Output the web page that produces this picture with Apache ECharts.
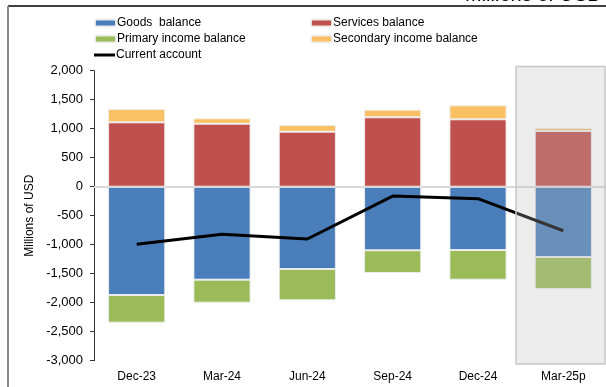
<!DOCTYPE html>
<html><head><meta charset="utf-8">
<script src="https://cdn.jsdelivr.net/npm/echarts@6/dist/echarts.min.js"></script>
<style>html,body{margin:0;padding:0;background:#fff}#c{width:606px;height:387px}</style>
</head><body><div id="c"></div>
<script>
var categories = ['Dec-23','Mar-24','Jun-24','Sep-24','Dec-24','Mar-25p'];
var goods = [-1867,-1603,-1419,-1097,-1092,-1212];
var services = [1110,1086,948,1197,1162,960];
var primary = [-477,-397,-540,-391,-511,-552];
var secondary = [230,93,115,131,241,52];
var currentAccount = [-993,-821,-902,-161,-207,-759];
var yTicks = {min:-3000,max:2000,interval:500};

var chart = echarts.init(document.getElementById('c'), null, {renderer:'canvas'});
var FONT = 'Liberation Sans';
function fmt(v){ return v.toLocaleString('en-US'); }
var barBorder = {borderColor:'rgba(240,240,240,0.9)', borderWidth:1};
function leg(name, left, top, extra){
  var o = {data:[name], left:left, top:top, itemWidth:21, itemHeight:7, itemGap:0,
    padding:0, textStyle:{fontFamily:FONT, fontSize:12, color:'#000', padding:[0,0,0,-4]},
    selectedMode:false};
  for (var k in extra) o[k]=extra[k];
  return o;
}
chart.setOption({
  animation:false,
  textStyle:{fontFamily:FONT},
  grid:{left:94, right:-5, top:70.7, bottom:26.3},
  legend:[
    leg('Goods  balance', 94, 17),
    leg('Services balance', 310, 17),
    leg('Primary income balance', 94, 33),
    leg('Secondary income balance', 310, 33),
    leg('Current account', 94, 49, {icon:'rect', itemHeight:3})
  ],
  xAxis:{type:'category', data:categories, axisLine:{show:false}, axisTick:{show:false},
    axisLabel:{fontFamily:FONT, fontSize:12, color:'#000', margin:10}},
  yAxis:{type:'value', min:yTicks.min, max:yTicks.max, interval:yTicks.interval,
    name:'Millions of USD', nameLocation:'middle', nameGap:48, nameRotate:90,
    nameTextStyle:{fontFamily:FONT, fontSize:12, color:'#000'},
    axisLine:{show:true, lineStyle:{color:'#333', width:1}},
    axisTick:{show:true, length:4, lineStyle:{color:'#333'}},
    axisLabel:{formatter:fmt, fontFamily:FONT, fontSize:13, color:'#000', margin:11},
    splitLine:{show:false}},
  series:[
    {name:'Goods  balance', type:'bar', stack:'a', data:goods, barWidth:'67%',
      itemStyle:Object.assign({color:'#4a7ebb'}, barBorder),
      markLine:{silent:true, symbol:'none', label:{show:false},
        lineStyle:{color:'#d9d9d9', width:2, type:'solid'}, data:[{yAxis:0}]}},
    {name:'Services balance', type:'bar', stack:'a', data:services,
      itemStyle:Object.assign({color:'#c0504d'}, barBorder)},
    {name:'Primary income balance', type:'bar', stack:'a', data:primary,
      itemStyle:Object.assign({color:'#9bbb59'}, barBorder)},
    {name:'Secondary income balance', type:'bar', stack:'a', data:secondary,
      itemStyle:Object.assign({color:'#fac064'}, barBorder)},
    {name:'Current account', type:'line', data:currentAccount, showSymbol:false, symbol:'none',
      lineStyle:{color:'#000', width:3}, itemStyle:{color:'#000'}, z:5}
  ],
  graphic:[
    {type:'line', shape:{x1:8, y1:6, x2:606, y2:6}, style:{stroke:'#000', lineWidth:1.5}, z:100},
    {type:'line', shape:{x1:8, y1:6, x2:8, y2:387}, style:{stroke:'#888', lineWidth:2}, z:100},
    {type:'rect', shape:{x:516, y:66.5, width:89, height:297.5},
      style:{fill:'rgba(188,188,188,0.28)', stroke:'#c8c8c8', lineWidth:1.5}, z:100},
    {type:'text', left:465, top:-15, style:{text:'Millions of USD', fontFamily:FONT, fontSize:20, fill:'#000'}, z:100}
  ]
});
</script></body></html>
